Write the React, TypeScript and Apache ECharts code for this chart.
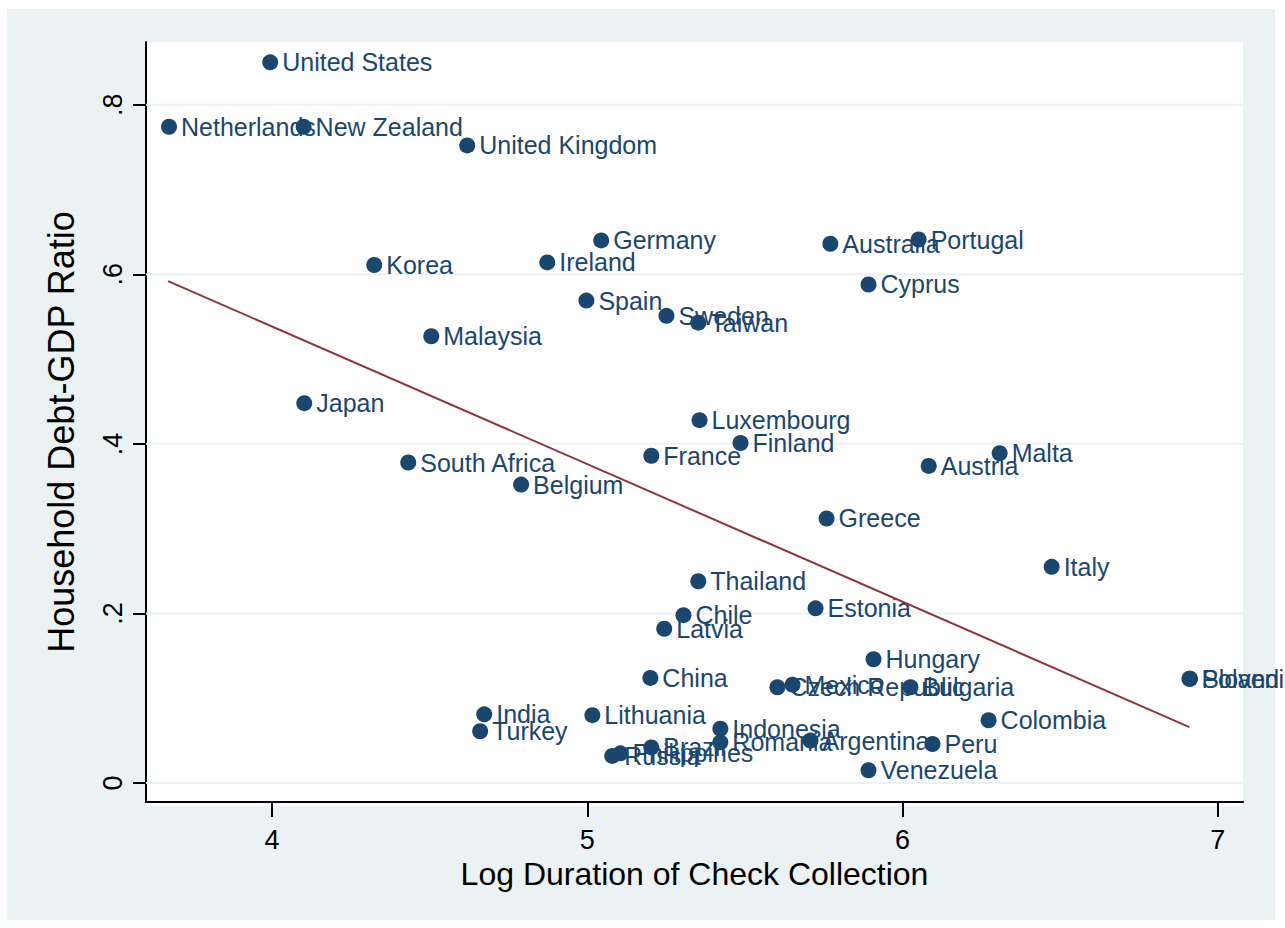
import React, { useEffect, useRef } from "react";
import * as echarts from "echarts";

const countries = [
  "United States", "Netherlands", "New Zealand", "United Kingdom", "Germany", "Australia", "Portugal",
  "Korea", "Ireland", "Cyprus", "Spain", "Sweden", "Taiwan", "Malaysia", "Japan", "Luxembourg",
  "Finland", "France", "Malta", "Austria", "South Africa", "Belgium", "Greece", "Italy", "Thailand",
  "Estonia", "Chile", "Latvia", "Hungary", "Poland", "Slovenia", "China", "Czech Republic", "Mexico",
  "Bulgaria", "India", "Lithuania", "Turkey", "Colombia", "Indonesia", "Romania", "Argentina", "Peru",
  "Brazil", "Philippines", "Russia", "Venezuela",
];
const logDuration = [
  3.994, 3.673, 4.100, 4.619, 5.044, 5.771, 6.051,
  4.324, 4.873, 5.892, 4.997, 5.251, 5.352, 4.505, 4.102, 5.356,
  5.486, 5.203, 6.308, 6.083, 4.432, 4.790, 5.759, 6.473, 5.352,
  5.724, 5.305, 5.244, 5.908, 6.910, 6.912, 5.200, 5.603, 5.651,
  6.025, 4.673, 5.016, 4.660, 6.273, 5.422, 5.422, 5.708, 6.095,
  5.203, 5.105, 5.079, 5.892,
];
const debtRatio = [
  0.850, 0.774, 0.774, 0.752, 0.640, 0.636, 0.641,
  0.611, 0.614, 0.588, 0.569, 0.551, 0.543, 0.527, 0.448, 0.428,
  0.401, 0.386, 0.389, 0.374, 0.378, 0.352, 0.312, 0.255, 0.238,
  0.206, 0.198, 0.182, 0.146, 0.123, 0.123, 0.124, 0.113, 0.116,
  0.113, 0.081, 0.080, 0.061, 0.074, 0.064, 0.048, 0.050, 0.046,
  0.042, 0.035, 0.032, 0.015,
];
const fitX = [3.67, 6.91];
const fitY = [0.592, 0.066];
const xTicks = [4, 5, 6, 7];
const yTicks = [0, 0.2, 0.4, 0.6, 0.8];
const yTickLabels = ["0", ".2", ".4", ".6", ".8"];
const X_MIN = 3.6;
const X_MAX = 7.08;
const Y_MIN = -0.0224;
const Y_MAX = 0.874;

const FONT = "'Liberation Sans', Arial, sans-serif";
const NAVY = "#1a476f";
const BG = "#eaf2f3";

export default function App() {
  const ref = useRef<HTMLDivElement>(null);
  useEffect(() => {
    if (!ref.current) return;
    document.body.style.margin = "0";
    const chart = echarts.init(ref.current, undefined, { renderer: "svg" });
    const gl = 146, gt = 42, gr = 42, gb = 126;
    const option: any = {
      animation: false,
      backgroundColor: "#ffffff",
      textStyle: { fontFamily: FONT },
      graphic: [
        {
          type: "rect",
          z: -20,
          silent: true,
          shape: { x: 7, y: 9, width: 1268, height: 911 },
          style: { fill: BG },
        },
        {
          type: "rect",
          z: -10,
          silent: true,
          shape: { x: gl, y: gt, width: 1285 - gl - gr, height: 928 - gb - gt + 4 },
          style: { fill: "#ffffff" },
        },
      ],
      grid: { left: gl, top: gt, right: gr, bottom: gb, containLabel: false },
      xAxis: {
        type: "value",
        min: X_MIN,
        max: X_MAX,
        name: "Log Duration of Check Collection",
        nameLocation: "middle",
        nameGap: 55,
        nameTextStyle: { fontSize: 32, color: "#000", fontFamily: FONT },
        axisLine: { show: true, onZero: false, lineStyle: { color: "#000", width: 2 } },
        axisTick: { show: true, length: 15, customValues: xTicks, lineStyle: { color: "#000", width: 2 } },
        axisLabel: { customValues: xTicks, fontSize: 27, color: "#000", margin: 24, fontFamily: FONT, formatter: (v: number) => String(v) },
        splitLine: { show: false },
      },
      yAxis: {
        type: "value",
        min: Y_MIN,
        max: Y_MAX,
        name: "Household Debt-GDP Ratio",
        nameLocation: "middle",
        nameGap: 67,
        nameRotate: 90,
        nameTextStyle: { fontSize: 36, color: "#000", fontFamily: FONT, padding: [0, 20, 0, 0] },
        axisLine: { show: true, onZero: false, lineStyle: { color: "#000", width: 2 } },
        axisTick: { show: true, length: 13, customValues: yTicks, lineStyle: { color: "#000", width: 2 } },
        axisLabel: {
          customValues: yTicks,
          rotate: 90,
          fontSize: 27,
          color: "#000",
          margin: 20,
          fontFamily: FONT,
          formatter: (v: number) => {
            const i = yTicks.findIndex((t) => Math.abs(t - v) < 1e-6);
            return i >= 0 ? yTickLabels[i] : "";
          },
        },
        splitLine: { show: false },
      },
      series: [
        {
          type: "custom",
          silent: true,
          z: 1,
          data: yTicks.map((v) => [X_MIN, v, X_MAX]),
          renderItem: (params: any, api: any) => {
            const p1 = api.coord([api.value(0), api.value(1)]);
            const p2 = api.coord([api.value(2), api.value(1)]);
            return {
              type: "line",
              shape: { x1: p1[0], y1: p1[1], x2: p2[0], y2: p2[1] },
              style: { stroke: BG, lineWidth: 2 },
            };
          },
        },
        {
          type: "scatter",
          z: 3,
          symbol: "circle",
          symbolSize: 16,
          itemStyle: { color: NAVY, opacity: 1 },
          data: countries.map((c, i) => ({ name: c, value: [logDuration[i], debtRatio[i]] })),
          label: {
            show: true,
            position: "right",
            distance: 4,
            formatter: "{b}",
            fontSize: 25,
            color: NAVY,
            opacity: 1,
            fontFamily: FONT,
          },
          emphasis: { disabled: true },
        },
        {
          type: "line",
          z: 4,
          showSymbol: false,
          symbol: "none",
          data: fitX.map((x, i) => [x, fitY[i]]),
          lineStyle: { color: "#90353b", width: 2 },
          silent: true,
        },
      ],
    };
    chart.setOption(option);
    return () => chart.dispose();
  }, []);
  return <div ref={ref} style={{ width: 1285, height: 928 }} />;
}
